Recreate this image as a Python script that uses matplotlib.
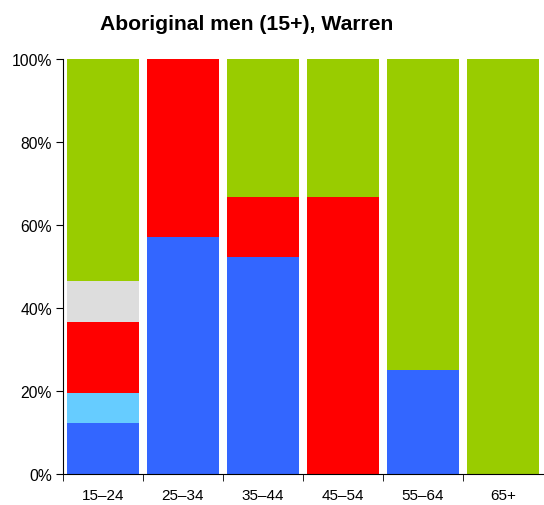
import matplotlib
matplotlib.use("Agg")
import matplotlib.pyplot as plt
import numpy as np

plt.rcParams['font.family'] = ['Liberation Sans', 'DejaVu Sans']

groupes = ["15–24", "25–34", "35–44", "45–54", "55–64", "65+"]
# share of each segment (%), bottom to top
bleu = [12.2, 57.1, 52.4, 0, 25.0, 0]
bleu_clair = [7.3, 0, 0, 0, 0, 0]
rouge = [17.1, 42.9, 14.3, 66.7, 0, 0]
gris = [9.8, 0, 0, 0, 0, 0]
vert = [53.6, 0, 33.3, 33.3, 75.0, 100.0]

couleurs = ["#3366FF", "#66CCFF", "#FF0000", "#DDDDDD", "#99CC00"]

fig = plt.figure(figsize=(5.44, 5.06), dpi=100)
ax = fig.add_axes([63/544, 1-475/506, 480/544, 415/506])

x = np.arange(len(groupes))
bas = np.zeros(len(groupes))
for serie, c in zip([bleu, bleu_clair, rouge, gris, vert], couleurs):
    ax.bar(x, serie, bottom=bas, width=0.91, color=c, linewidth=0)
    bas += np.array(serie)

ax.set_xlim(-0.5, len(groupes) - 0.5)
ax.set_ylim(0, 100)
ax.set_yticks(range(0, 101, 20))
ax.set_yticklabels(["%d%%" % v for v in range(0, 101, 20)], fontsize=11.3)
ax.set_xticks(x)
ax.set_xticklabels(groupes, fontsize=11)
ax.tick_params(axis='x', which='major', length=0, pad=10)
ax.set_xticks(np.arange(-0.5, len(groupes) - 0.5, 1), minor=True)
ax.tick_params(axis='x', which='minor', length=5, direction='out')
ax.tick_params(axis='y', length=5, direction='out', pad=3)

for s in ["top", "right"]:
    ax.spines[s].set_visible(False)

fig.text(246.5/544, 1-24.5/506, "Aboriginal men (15+), Warren", ha='center', va='center',
         fontsize=15.2, fontweight='bold')

plt.savefig("out.png", dpi=100)
